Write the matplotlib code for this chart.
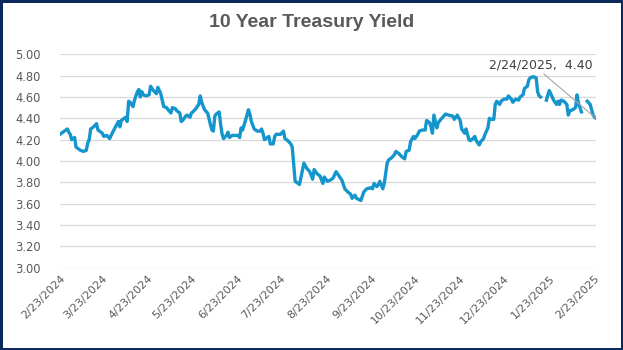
import numpy as np
import pandas as pd
import matplotlib
matplotlib.use("Agg")
import matplotlib.pyplot as plt
from matplotlib.patches import Rectangle

start = pd.Timestamp("2024-02-23")

# days since 2/23/2024 and the 10y yield on that day (nan = no quote)
day_offset = [
    0, 2, 5, 6, 7, 8, 9, 10, 11, 14, 16, 18, 19, 20, 21, 23, 25, 26, 29, 30,
    32, 34, 35, 38, 40, 41, 42, 45, 46, 47, 48, 50, 51, 53, 54, 55, 56, 57, 59, 61,
    62, 64, 66, 67, 69, 70, 71, 73, 74, 76, 77, 79, 80, 82, 83, 84, 86, 87, 89, 90,
    91, 93, 95, 96, 97, 99, 101, 102, 103, 104, 105, 106, 107, 109, 110, 111, 112, 114, 115, 116,
    118, 120, 122, 123, 124, 125, 127, 129, 130, 131, 133, 135, 137, 138, 139, 140, 141, 143, 144, 146,
    147, 148, 151, 153, 154, 156, 158, 159, 161, 163, 164, 167, 169, 171, 173, 174, 176, 178, 180, 181,
    183, 185, 187, 189, 191, 193, 195, 197, 199, 200, 202, 203, 206, 208, 210, 213, 214, 215, 217, 218,
    219, 221, 222, 224, 225, 227, 229, 230, 232, 234, 236, 237, 239, 240, 242, 243, 245, 246, 248, 250,
    251, 253, 254, 255, 256, 258, 259, 262, 264, 266, 269, 270, 272, 274, 275, 277, 278, 280, 281, 282,
    284, 285, 287, 288, 290, 291, 293, 294, 295, 297, 298, 299, 301, 302, 304, 306, 307, 309, 310, 312,
    314, 315, 317, 318, 320, 321, 322, 324, 326, 327, 328, 329, 331, 333, 334, 335, 337, 338, 340, 341,
    342, 343, 345, 347, 348, 349, 351, 353, 354, 355, 357, 359, 361, 363, 364, 365, 366, 367,
]
yield_10y = [
    4.25, 4.27, 4.30, 4.27, 4.25, 4.20, 4.21, 4.22, 4.13, 4.10, 4.09, 4.10, 4.17, 4.20, 4.30, 4.32, 4.35, 4.29, 4.26, 4.23,
    4.24, 4.21, 4.24, 4.32, 4.37, 4.32, 4.38, 4.41, 4.37, 4.56, 4.55, 4.51, 4.57, 4.65, 4.67, 4.60, 4.65, 4.62, 4.61, 4.62,
    4.70, 4.66, 4.63, 4.69, 4.63, 4.57, 4.51, 4.50, 4.48, 4.45, 4.50, 4.49, 4.47, 4.45, 4.37, 4.38, 4.42, 4.43, 4.41, 4.45,
    4.46, 4.49, 4.53, 4.61, 4.55, 4.48, 4.45, 4.40, 4.34, 4.29, 4.28, 4.42, 4.44, 4.46, 4.34, 4.25, 4.21, 4.24, 4.27, 4.22,
    4.24, 4.24, 4.24, 4.22, 4.31, 4.29, 4.38, 4.48, 4.44, 4.37, 4.30, 4.28, 4.28, 4.30, 4.26, 4.20, 4.21, 4.23, 4.16, 4.16,
    4.23, 4.25, 4.25, 4.28, 4.21, 4.19, 4.16, 4.13, 3.81, 3.79, 3.78, 3.98, 3.93, 3.90, 3.83, 3.92, 3.88, 3.86, 3.79, 3.85,
    3.81, 3.82, 3.84, 3.90, 3.86, 3.82, 3.74, 3.71, 3.69, 3.65, 3.68, 3.65, 3.63, 3.71, 3.74, 3.75, 3.74, 3.79, 3.76, 3.78,
    3.81, 3.74, 3.79, 3.98, 4.01, 4.03, 4.06, 4.09, 4.07, 4.04, 4.02, 4.09, 4.10, 4.18, 4.23, 4.21, 4.25, 4.28, 4.29, 4.29,
    4.38, 4.36, 4.32, 4.26, 4.43, 4.31, 4.36, 4.41, 4.44, 4.43, 4.42, 4.39, 4.43, 4.38, 4.30, 4.26, 4.30, 4.20, 4.19, 4.20,
    4.23, 4.19, 4.15, 4.18, 4.21, 4.25, 4.31, 4.40, 4.39, 4.39, 4.53, 4.56, 4.53, 4.56, 4.58, 4.58, 4.61, 4.58, 4.55, 4.58,
    4.57, 4.60, 4.62, 4.68, 4.70, 4.76, 4.78, 4.79, 4.78, 4.65, 4.61, 4.60, np.nan, 4.57, 4.62, 4.66, 4.60, 4.57, 4.53, 4.56,
    4.53, 4.57, 4.56, 4.53, 4.43, 4.47, 4.48, 4.50, 4.62, 4.54, 4.46, np.nan, 4.56, 4.53, 4.48, 4.43, 4.41, 4.40,
]

y_ticks = [3.00, 3.20, 3.40, 3.60, 3.80, 4.00, 4.20, 4.40, 4.60, 4.80, 5.00]
tick_dates = pd.date_range("2024-02-01", "2025-02-01", freq="MS") + pd.Timedelta(days=22)
tick_labels = [f"{d.month}/{d.day}/{d.year}" for d in tick_dates]

dates = start + pd.to_timedelta(day_offset, unit="D")
last_date, last_val = dates[-1], yield_10y[-1]

grey = "#595959"
fig = plt.figure(figsize=(6.23, 3.5), dpi=100)
ax = fig.add_axes([0.0963, 0.235, 0.8604, 0.61])

ax.plot(dates, yield_10y, color="#1496cc", lw=2.4, solid_joinstyle="round", zorder=3)

ax.set_ylim(3.0, 5.0)
ax.set_yticks(y_ticks)
ax.set_yticklabels([f"{v:.2f}" for v in y_ticks], fontsize=8.3, color=grey)
ax.set_xlim(start, last_date)
ax.set_xticks(tick_dates)
ax.set_xticklabels(tick_labels, fontsize=8, color=grey, rotation=45,
                   ha="right", va="top", rotation_mode="anchor")
ax.tick_params(length=0, axis="y", pad=14)
ax.tick_params(length=0, axis="x", pad=4)
ax.grid(axis="y", color="#d9d9d9", lw=0.9)
ax.set_axisbelow(True)
for s in ax.spines.values():
    s.set_visible(False)

# data label for the latest value, with leader line
ax.annotate(f"{last_date.month}/{last_date.day}/{last_date.year},  {last_val:.2f}",
            xy=(last_date, last_val), xytext=(-40, 34), textcoords="offset points",
            ha="center", va="bottom", fontsize=9, color="#404040",
            arrowprops=dict(arrowstyle="-", color="#a6a6a6", lw=0.8,
                            relpos=(0.5, 0.0), shrinkA=0, shrinkB=0))

fig.text(0.5, 0.937, "10 Year Treasury Yield", ha="center", va="center",
         fontsize=14, fontweight="bold", color=grey, family="Liberation Sans")

fig.patches.append(Rectangle((0, 0), 1, 1, transform=fig.transFigure,
                             fill=False, edgecolor="#0b2a5b", lw=3.6))

fig.savefig("out.png", dpi=100)
